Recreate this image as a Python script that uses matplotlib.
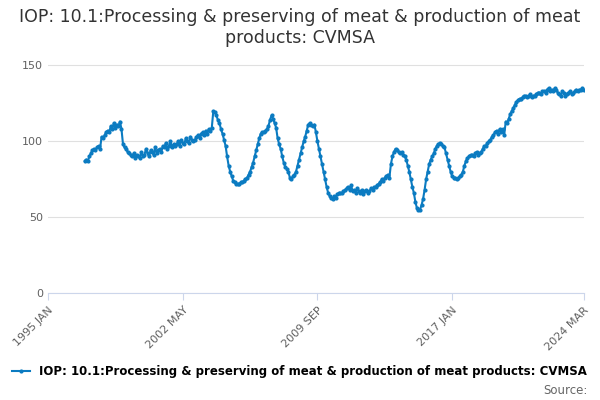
import matplotlib
matplotlib.use("Agg")
import matplotlib.pyplot as plt
import numpy as np

values = [
87,88,87,90,92,94,95,94,96,97,95,103,
102,104,106,107,106,110,108,112,109,111,110,113,
108,98,96,95,93,92,91,90,92,89,91,90,
89,93,90,91,95,92,90,94,93,91,96,92,
94,95,93,97,96,99,95,97,100,96,98,97,
98,100,97,101,99,98,102,100,99,103,101,100,
101,103,104,102,105,106,104,107,105,108,107,109,
120,119,117,114,112,108,105,101,97,90,84,80,
77,74,73,72,72,72,73,73,74,75,76,78,
80,83,86,90,94,98,102,105,106,106,107,108,
110,114,117,115,112,109,102,98,95,90,86,83,
82,80,76,75,77,78,80,84,88,92,96,100,
103,107,111,112,111,110,111,106,100,95,90,85,
80,75,70,66,64,63,62,64,63,65,66,66,
66,67,68,69,70,68,71,67,68,66,69,67,
66,68,65,67,68,66,67,69,68,70,70,71,
72,73,75,74,76,77,78,76,85,90,93,95,
94,93,92,93,91,90,88,84,80,75,70,66,
60,56,55,55,58,62,68,75,80,85,88,90,
92,95,97,98,99,98,97,96,92,88,84,80,
77,76,76,75,76,77,78,80,84,87,89,90,
91,91,90,92,93,91,92,93,95,97,97,99,
100,101,103,104,106,107,105,108,106,108,104,113,
112,115,118,120,122,124,126,127,128,128,129,130,
130,129,130,131,129,130,130,131,132,132,131,133,
133,132,134,135,133,134,133,135,134,132,131,130,
133,132,130,131,132,133,131,132,133,134,133,134,
134,135,134]
start_month = 24  # months after 1995 JAN
tick_labels = ["1995 JAN", "2002 MAY", "2009 SEP", "2017 JAN", "2024 MAR"]
tick_months = [0, 88, 176, 264, 350]
label = "IOP: 10.1:Processing & preserving of meat & production of meat products: CVMSA"

x = np.arange(len(values)) + start_month
fig = plt.figure(figsize=(6, 4), dpi=100)
ax = fig.add_axes([0.08, 0.267, 0.893, 0.60])
color = "#0b7bc1"
ax.plot(x, values, color=color, lw=1.5, marker="o", ms=2, label=label)
ax.set_xlim(0, 350)
ax.set_ylim(0, 158)
ax.set_yticks([0, 50, 100, 150])
ax.set_xticks(tick_months)
ax.set_xticklabels(tick_labels, rotation=45, ha="right", rotation_mode="anchor")
ax.grid(axis="y", color="#e0e0e0", lw=0.8)
ax.grid(axis="x", visible=False)
for s in ["top", "right", "left"]:
    ax.spines[s].set_visible(False)
ax.spines["bottom"].set_color("#ccd6eb")
ax.tick_params(axis="y", length=0, colors="#606060", labelsize=8)
ax.tick_params(axis="x", colors="#606060", labelsize=8, length=5, color="#ccd6eb")
fig.suptitle("IOP: 10.1:Processing & preserving of meat & production of meat\nproducts: CVMSA",
             y=0.98, fontsize=12.5, color="#333333")
ax.legend(loc="upper center", bbox_to_anchor=(0.47, -0.255), frameon=False,
          handlelength=1.5, prop={"weight": "bold", "size": 8.5})
fig.text(0.98, 0.015, "Source:", ha="right", fontsize=8.5, color="#666666")
fig.savefig("out.png")
